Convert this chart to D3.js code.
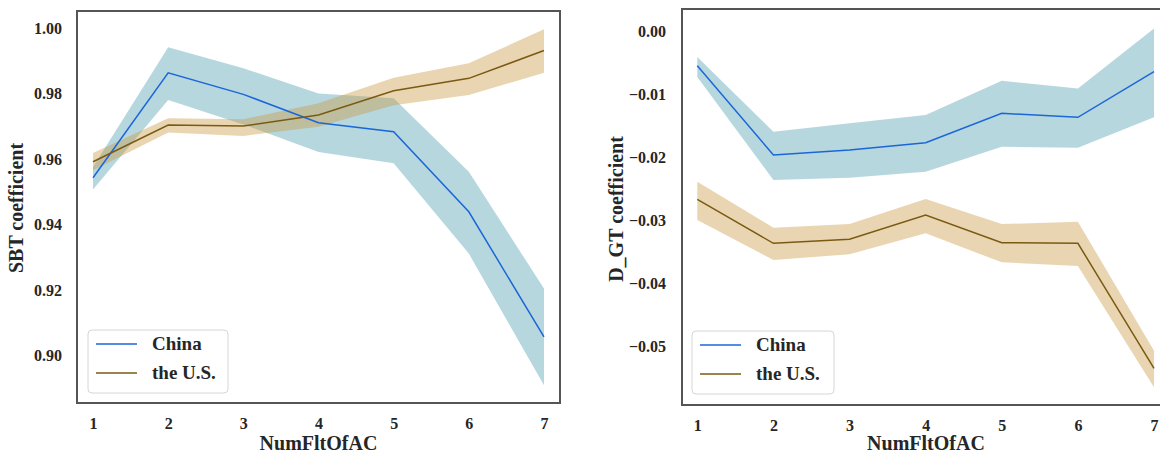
<!DOCTYPE html>
<html>
<head>
<meta charset="utf-8">
<script src="https://cdn.jsdelivr.net/npm/d3@7"></script>
<style>
html,body{margin:0;padding:0;background:#fff;}
svg{display:block;}
text{font-family:"Liberation Serif","Times New Roman",serif;font-weight:bold;fill:#262626;}
</style>
</head>
<body>
<svg id="chart" width="1160" height="454"></svg>
<script>
// ---- data ----
const xValues = [1, 2, 3, 4, 5, 6, 7];
const xTicks = [1, 2, 3, 4, 5, 6, 7];
const seriesNames = ["China", "the U.S."];

const sbtChina   = [0.9542, 0.9863, 0.9797, 0.9710, 0.9683, 0.9438, 0.9055];
const sbtChinaLo = [0.9506, 0.9780, 0.9705, 0.9621, 0.9586, 0.9310, 0.8907];
const sbtChinaHi = [0.9575, 0.9941, 0.9877, 0.9800, 0.9785, 0.9560, 0.9203];
const sbtUS      = [0.9591, 0.9703, 0.9700, 0.9734, 0.9808, 0.9846, 0.9931];
const sbtUSLo    = [0.9565, 0.9680, 0.9670, 0.9698, 0.9764, 0.9795, 0.9863];
const sbtUSHi    = [0.9618, 0.9724, 0.9721, 0.9770, 0.9848, 0.9892, 0.9996];
const sbtTicks   = [0.90, 0.92, 0.94, 0.96, 0.98, 1.00];

const dgtChina   = [-0.0055, -0.01965, -0.01886, -0.0177, -0.01305, -0.01368, -0.00645];
const dgtChinaLo = [-0.0073, -0.0236, -0.02325, -0.0223, -0.01833, -0.0185, -0.01368];
const dgtChinaHi = [-0.0041, -0.01596, -0.01463, -0.0133, -0.0079, -0.0091, 0.0004];
const dgtUS      = [-0.02668, -0.03365, -0.03301, -0.02916, -0.03355, -0.03365, -0.05346];
const dgtUSLo    = [-0.02995, -0.03629, -0.03539, -0.03206, -0.03666, -0.03724, -0.05647];
const dgtUSHi    = [-0.02388, -0.03117, -0.0306, -0.02662, -0.0306, -0.03022, -0.05066];
const dgtTicks   = [0.00, -0.01, -0.02, -0.03, -0.04, -0.05];

// ---- styles ----
const lineColors = ["#1a66d9", "#7a5a12"];
const bandColors = ["#4a9bb0", "#c8963c"];
const bandOpacity = 0.4;

const svg = d3.select("#chart");

function panel(cfg, idx) {
  const g = svg.append("g");
  const x = d3.scaleLinear().domain(cfg.xDomain).range([cfg.left, cfg.right]);
  const y = d3.scaleLinear().domain(cfg.yDomain).range([cfg.bottom, cfg.top]);

  const clipId = "clip" + idx;
  svg.append("clipPath").attr("id", clipId).append("rect")
    .attr("x", cfg.left).attr("y", cfg.top)
    .attr("width", cfg.right - cfg.left).attr("height", cfg.bottom - cfg.top);

  const plot = g.append("g").attr("clip-path", `url(#${clipId})`);
  const area = d3.area().x(d => x(d.x)).y0(d => y(d.lo)).y1(d => y(d.hi));
  const line = d3.line().x(d => x(d.x)).y(d => y(d.v));

  cfg.series.forEach((s, i) => {
    const pts = xValues.map((xv, k) => ({x: xv, v: s.v[k], lo: s.lo[k], hi: s.hi[k]}));
    plot.append("path").datum(pts).attr("d", area)
      .attr("fill", bandColors[i]).attr("fill-opacity", bandOpacity).attr("stroke", "none");
  });
  cfg.series.forEach((s, i) => {
    const pts = xValues.map((xv, k) => ({x: xv, v: s.v[k]}));
    plot.append("path").datum(pts).attr("d", line)
      .attr("fill", "none").attr("stroke", lineColors[i]).attr("stroke-width", 1.5);
  });

  // axes
  const xAxis = d3.axisBottom(x).tickValues(xTicks).tickSize(0).tickFormat(d3.format("d"));
  const xg = g.append("g").attr("transform", `translate(0,${cfg.bottom})`).call(xAxis);
  xg.select(".domain").remove();
  xg.selectAll("text").attr("y", 26).attr("dy", 0).style("font-size", "16px")
    .style("font-family", "Liberation Serif").style("font-weight", "bold").attr("fill", "#262626");

  const yAxis = d3.axisLeft(y).tickValues(cfg.yTicks).tickSize(0).tickPadding(cfg.yPad).tickFormat(d3.format(".2f"));
  const yg = g.append("g").attr("transform", `translate(${cfg.left},0)`).call(yAxis);
  yg.select(".domain").remove();
  yg.selectAll("text").attr("dy", "0.34em").style("font-size", "16px")
    .style("font-family", "Liberation Serif").style("font-weight", "bold").attr("fill", "#262626");

  // frame
  g.append("rect").attr("x", cfg.left).attr("y", cfg.top)
    .attr("width", cfg.right - cfg.left).attr("height", cfg.bottom - cfg.top)
    .attr("fill", "none").attr("stroke", "#555").attr("stroke-width", 2);

  // axis labels
  g.append("text").attr("x", (cfg.left + cfg.right) / 2).attr("y", 450)
    .attr("text-anchor", "middle").style("font-size", "20px").text("NumFltOfAC");
  g.append("text").attr("transform", `translate(${cfg.yLabelX},${cfg.yLabelY}) rotate(-90)`)
    .attr("text-anchor", "middle").style("font-size", "20px").text(cfg.yLabel);

  // legend
  const lg = g.append("g").attr("transform", `translate(${cfg.legX},${cfg.legY})`);
  lg.append("rect").attr("x", 0).attr("y", 0).attr("width", cfg.legW).attr("height", 63)
    .attr("rx", 4).attr("fill", "#fff").attr("fill-opacity", 0.85)
    .attr("stroke", "#d6d6d6").attr("stroke-width", 1);
  seriesNames.forEach((name, i) => {
    const yy = 14 + i * 29;
    lg.append("line").attr("x1", 8).attr("x2", 49).attr("y1", yy).attr("y2", yy)
      .attr("stroke", lineColors[i]).attr("stroke-width", 1.5);
    lg.append("text").attr("x", 64).attr("y", yy + 6).style("font-size", "19px").text(name);
  });
}

panel({
  left: 77, right: 560, top: 11, bottom: 403,
  xDomain: [0.787, 7.213], yDomain: [0.8853, 1.0052],
  yTicks: sbtTicks, yPad: 15,
  yLabel: "SBT coefficient", yLabelX: 23, yLabelY: 208,
  legX: 88, legY: 330, legW: 140,
  series: [
    {v: sbtChina, lo: sbtChinaLo, hi: sbtChinaHi},
    {v: sbtUS, lo: sbtUSLo, hi: sbtUSHi}
  ]
}, 0);

panel({
  left: 682, right: 1170, top: 9, bottom: 405,
  xDomain: [0.799, 7.21], yDomain: [-0.05927, 0.00349],
  yTicks: dgtTicks, yPad: 16,
  yLabel: "D_GT coefficient", yLabelX: 623, yLabelY: 209,
  legX: 692, legY: 331, legW: 142,
  series: [
    {v: dgtChina, lo: dgtChinaLo, hi: dgtChinaHi},
    {v: dgtUS, lo: dgtUSLo, hi: dgtUSHi}
  ]
}, 1);
</script>
</body>
</html>
